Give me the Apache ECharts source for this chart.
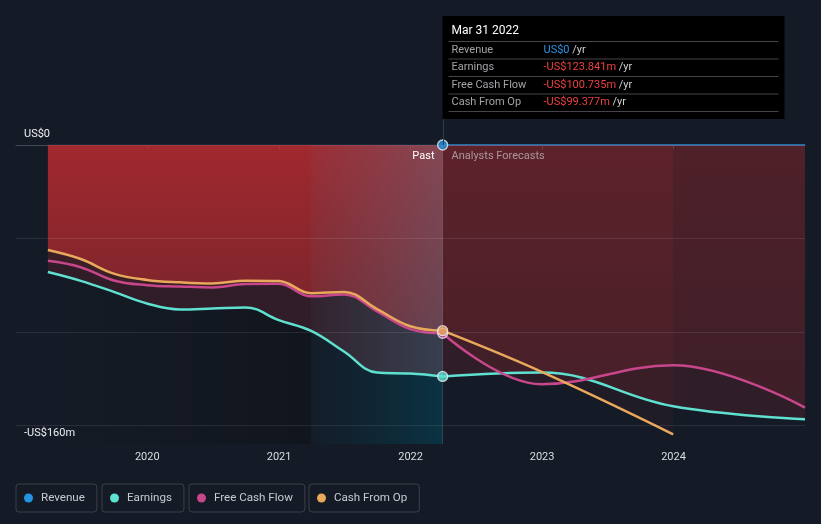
<!DOCTYPE html>
<html><head><meta charset="utf-8">
<script src="https://cdn.jsdelivr.net/npm/echarts@6/dist/echarts.min.js"></script>
<style>html,body{margin:0;padding:0;background:#151b26;}#c{width:821px;height:524px;}</style>
</head><body><div id="c"></div>
<script>
// ---- data (US$ millions) ----
const pastDates = ['2019-03-31','2019-06-30','2019-09-30','2019-12-31','2020-03-31','2020-06-30','2020-09-30','2020-12-31','2021-03-31','2021-06-30','2021-09-30','2021-12-31','2022-03-31'];
const revenuePast  = [0,0,0,0,0,0,0,0,0,0,0,0,0];
const earningsPast = [-68,-72.7,-78.6,-84.8,-88,-87.5,-86.9,-93.7,-99.5,-110.5,-121.8,-122.3,-123.841];
const fcfPast      = [-62,-65.4,-72.5,-75,-75.7,-76.2,-74.4,-74.3,-81,-80,-89,-98.5,-100.735];
const cfoPast      = [-56.2,-61,-68.8,-72.2,-73.5,-74.1,-72.6,-72.8,-79.3,-78.6,-87.8,-97,-99.377];
const forecastDates = ['2022-03-31','2022-12-31','2023-12-31','2024-12-31'];
const revenueFc  = [0,0,0,0];
const earningsFc = [-123.841,-121.8,-139.8,-146.8];
const fcfFc      = [-100.735,-128,-117.8,-140.5];
const cfoFc      = [-99.377,-121.4,-154.8];
const yTickValues = [-160, 0];
const gridValues = [-50, -100, -150];
const highlightStart = '2021-03-31';
const nowDate = '2022-03-31';
const nowLabel = 'Mar 31 2022';
const names = ['Revenue','Earnings','Free Cash Flow','Cash From Op'];

const C = {Revenue:'#2394df', Earnings:'#5fe0d0', 'Free Cash Flow':'#c8468b', 'Cash From Op':'#e9a85c'};
const SM = 0.4;
const zip = (d, v) => v.map((y, i) => [d[i], y]);
const sliceFrom = (d, v, start) => zip(d, v).filter(p => p[0] >= start);
const sliceTo = (d, v, end) => zip(d, v).filter(p => p[0] <= end);
const fmt = v => v === 0 ? 'US$0' : (v < 0 ? '-' : '') + 'US$' + Math.abs(v) + 'm';
const fmtTip = v => v === 0 ? 'US$0' : (v < 0 ? '-' : '') + 'US$' + Math.abs(v).toFixed(3) + 'm';

const lin = (x2, y2, stops) => ({type:'linear', x:0, y:0, x2:x2, y2:y2, colorStops: stops.map((c,i)=>({offset: i/(stops.length-1), color:c}))});
const red = a => 'rgba(208,46,50,' + a + ')';

const series = [];
// revenue lines (under areas)
series.push({name:'Revenue', type:'line', data: zip(pastDates, revenuePast), smooth:SM, symbol:'none', lineStyle:{color:C.Revenue, width:2, opacity:0.12}, itemStyle:{color:C.Revenue}, z:1});
series.push({name:'Revenue', type:'line', data: zip(forecastDates, revenueFc), smooth:SM, symbol:'none', lineStyle:{color:C.Revenue, width:2, opacity:0.7}, itemStyle:{color:C.Revenue}, z:1});
// red areas (earnings, fcf, cfo)
const pastAreas = [red(0.15), red(0.08), lin(0,1,[red(0.68), red(0.4)])];
const fcAreas = [red(0.14), lin(0,1,[red(0.2), red(0.09)]), lin(0,1,[red(0.11), red(0.05)])];
[earningsPast, fcfPast, cfoPast].forEach((v,i)=>{
  series.push({name:'area_p'+i, type:'line', data: zip(pastDates, v), smooth:SM, symbol:'none', lineStyle:{width:0}, areaStyle:{color:pastAreas[i], origin:'end', opacity:1}, z:2, silent:true});
});
[earningsFc, fcfFc, cfoFc].forEach((v,i)=>{
  series.push({name:'area_f'+i, type:'line', data: zip(forecastDates, v), smooth:SM, symbol:'none', lineStyle:{width:0}, areaStyle:{color:fcAreas[i], origin:'end', opacity:1}, z:2, silent:true});
});
// shading below earnings in the past, and last-year highlight
series.push({name:'shade_dark', type:'line', data: sliceTo(pastDates, earningsPast, highlightStart), smooth:SM, symbol:'none', lineStyle:{width:0},
  areaStyle:{color: lin(1,0,['rgba(0,0,0,0)','rgba(0,0,0,0.22)']), origin:'start', opacity:1}, z:2, silent:true});
series.push({name:'hl_bottom', type:'line', data: sliceFrom(pastDates, earningsPast, highlightStart), smooth:SM, symbol:'none', lineStyle:{width:0},
  areaStyle:{color: lin(1,0,['rgba(0,60,80,0.08)','rgba(0,75,95,0.5)']), origin:'start', opacity:1}, z:2, silent:true});
series.push({name:'hl_top', type:'line', data: sliceFrom(pastDates, earningsPast, highlightStart), smooth:SM, symbol:'none', lineStyle:{width:0},
  areaStyle:{color: lin(1,0,['rgba(70,135,165,0.06)','rgba(70,135,165,0.32)']), origin:'end', opacity:1}, z:2, silent:true});
// grid lines + now line
series.push({name:'grid', type:'line', data: [], z:3, silent:true,
  markLine:{silent:true, symbol:'none', label:{show:false}, animation:false,
    data: gridValues.map(v=>({yAxis:v, lineStyle:{color:'rgba(255,255,255,0.09)', width:1, type:'solid'}}))
      .concat([{xAxis:nowDate, lineStyle:{color:'rgba(200,210,230,0.16)', width:1, type:'solid'}}])}});
// metric lines
[['Earnings', earningsPast, earningsFc], ['Free Cash Flow', fcfPast, fcfFc], ['Cash From Op', cfoPast, cfoFc]].forEach(([n, p, f])=>{
  series.push({name:n, type:'line', data: zip(pastDates, p), smooth:SM, symbol:'none', lineStyle:{color:C[n], width:2.5}, itemStyle:{color:C[n]}, z:4});
  series.push({name:n, type:'line', data: zip(forecastDates, f), smooth:SM, symbol:'none', lineStyle:{color:C[n], width:2.5}, itemStyle:{color:C[n]}, z:4});
});
// dots at "now"
const lastVals = {Revenue: revenuePast[revenuePast.length-1], Earnings: earningsPast[earningsPast.length-1], 'Free Cash Flow': fcfPast[fcfPast.length-1], 'Cash From Op': cfoPast[cfoPast.length-1]};
series.push({name:'dots', type:'scatter', z:5, silent:true, symbolSize:10,
  data: ['Earnings','Free Cash Flow','Cash From Op','Revenue'].map(n=>({value:[nowDate, lastVals[n]], itemStyle:{color:C[n], borderColor:'#e8eef5', borderWidth:1.3}}))});

const legendLefts = [16, 102, 189, 309];
const legends = names.map((n,i)=>({
  data:[n], left: legendLefts[i], top: 484, orient:'horizontal', icon:'circle', itemWidth:15, itemHeight:9,
  padding:[8,12,8,8], borderColor:'#3b3f49', borderWidth:1, borderRadius:3,
  textStyle:{color:'#c9cad0', fontSize:11.6, fontFamily:'Roboto', lineHeight:12}
}));

const isYearStart = v => { const d = new Date(v); return d.getMonth() === 0 && d.getDate() === 1 && d.getHours() === 0; };

const chart = echarts.init(document.getElementById('c'), null, {renderer:'canvas'});
chart.setOption({
  backgroundColor:'#151b26',
  animation:false,
  textStyle:{fontFamily:'Roboto'},
  grid:{left:16, right:16, top:145, bottom:80, containLabel:false},
  legend: legends,
  xAxis:{type:'time', min:'2019-01-01T12:00:00', max:'2024-12-31', minInterval: 365*24*3600*1000, maxInterval: 366*24*3600*1000,
    axisLine:{lineStyle:{color:'#434852', width:1}}, axisTick:{show:true, length:4, lineStyle:{color:'#434852'}},
    splitLine:{show:false},
    axisLabel:{color:'#dcdce0', fontSize:11, margin:8, formatter: v => isYearStart(v) ? String(new Date(v).getFullYear()) : '', showMinLabel:false, showMaxLabel:false}},
  yAxis:{type:'value', min:yTickValues[0], max:yTickValues[1], interval: yTickValues[1]-yTickValues[0],
    axisLine:{show:false}, axisTick:{show:false}, splitLine:{show:false},
    axisLabel:{inside:true, margin:8, color:'#eeeef0', fontSize:11, verticalAlign:'bottom', padding:[0,0,5,0], formatter: fmt}},
  series: series
});

// annotations positioned from the data
const nowPx = chart.convertToPixel({xAxisIndex:0, yAxisIndex:0}, [nowDate, 0]);
const nx = Math.round(nowPx[0]) + 0.5, ny = nowPx[1];
const boxL = nx - 1, boxT = 16, boxW = 342, boxH = 103;
const rows = [['Revenue', lastVals.Revenue], ['Earnings', lastVals.Earnings], ['Free Cash Flow', lastVals['Free Cash Flow']], ['Cash From Op', lastVals['Cash From Op']]];
const g = [
  {type:'line', shape:{x1:nx, y1:boxT+boxH, x2:nx, y2:ny}, style:{stroke:'#2a3c4c', lineWidth:1}, z:10},
  {type:'rect', shape:{x:boxL, y:boxT, width:boxW, height:boxH}, style:{fill:'#000000'}, z:10},
  {type:'text', x: boxL+9, y: boxT+15, style:{text:nowLabel, fill:'#ffffff', font:'12px Roboto', verticalAlign:'middle'}, z:11},
  {type:'text', x: nx-9, y: 156, style:{text:'Past', fill:'#ffffff', font:'11px Roboto', align:'right', verticalAlign:'middle'}, z:11},
  {type:'text', x: nx+8, y: 156, style:{text:'Analysts Forecasts', fill:'rgba(200,200,205,0.7)', font:'11px Roboto', align:'left', verticalAlign:'middle'}, z:11}
];
const sepY = [41, 58.5, 76, 93.5, 111];
sepY.forEach(y=>g.push({type:'line', shape:{x1:boxL+6, y1:y+0.5, x2:boxL+boxW-6, y2:y+0.5}, style:{stroke:'#45454b', lineWidth:1}, z:11}));
rows.forEach((r,i)=>{
  const y = (sepY[i]+sepY[i+1])/2;
  g.push({type:'text', x: boxL+9, y: y, style:{text:r[0], fill:'#a3a3a8', font:'11px Roboto', verticalAlign:'middle'}, z:11});
  g.push({type:'text', x: boxL+101, y: y, style:{text:'{v|'+fmtTip(r[1])+'} {u|/yr}', font:'11px Roboto', verticalAlign:'middle',
    rich:{v:{fill: r[1]===0 ? '#2a94e6' : '#ec4141', font:'11px Roboto'}, u:{fill:'#d0d0d4', font:'11px Roboto'}}}, z:11});
});
chart.setOption({graphic: g});
</script></body></html>
